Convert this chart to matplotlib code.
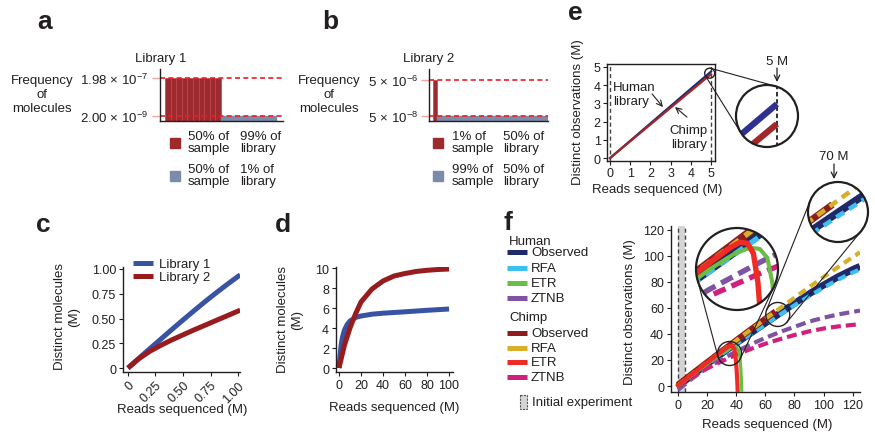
import numpy as np
import matplotlib
matplotlib.use("Agg")
import matplotlib.pyplot as plt
from matplotlib.patches import Circle, Rectangle
from matplotlib.ticker import NullLocator

INK = '#231f20'
plt.rcParams['font.family'] = ['Liberation Sans', 'DejaVu Sans']
plt.rcParams['mathtext.fontset'] = 'custom'
plt.rcParams['mathtext.rm'] = 'Liberation Sans'
plt.rcParams['mathtext.it'] = 'Liberation Sans:italic'
plt.rcParams['mathtext.bf'] = 'Liberation Sans:bold'
plt.rcParams['text.color'] = INK
plt.rcParams['axes.edgecolor'] = INK
plt.rcParams['xtick.color'] = INK
plt.rcParams['ytick.color'] = INK
plt.rcParams['axes.linewidth'] = 1.0
plt.rcParams['xtick.major.size'] = 3
plt.rcParams['ytick.major.size'] = 3
plt.rcParams['xtick.major.pad'] = 2
plt.rcParams['ytick.major.pad'] = 2
plt.rcParams['xtick.labelsize'] = 9
plt.rcParams['ytick.labelsize'] = 9

# ---------------- data ----------------
# a, b: frequency of molecules in each library
lib1_common = [1.98e-7] * 10
lib1_rare = [2.00e-9] * 10
lib2_common = [5e-6]
lib2_rare = [5e-8] * 30

# c: distinct molecules, first million reads
c_reads = [0, 0.1, 0.2, 0.3, 0.4, 0.5, 0.6, 0.7, 0.8, 0.9, 1.0, 1.02]
c_lib1 = [0, 0.099, 0.197, 0.293, 0.39, 0.485, 0.578, 0.67, 0.758, 0.843, 0.925, 0.94]
c_lib2 = [0, 0.095, 0.17, 0.23, 0.285, 0.335, 0.385, 0.432, 0.48, 0.527, 0.575, 0.585]

# d: distinct molecules, up to 100 M reads
d_reads1 = [0, 1, 2, 3, 5, 7.5, 10, 15, 20, 30, 40, 60, 80, 100]
d_lib1 = [0, 1.3, 2.3, 3.0, 3.8, 4.35, 4.7, 5.05, 5.2, 5.38, 5.48, 5.62, 5.77, 5.9]
d_reads2 = [0, 5, 10, 15, 20, 30, 40, 50, 60, 70, 80, 90, 100]
d_lib2 = [0, 2.3, 4.0, 5.4, 6.6, 7.9, 8.7, 9.2, 9.45, 9.65, 9.77, 9.85, 9.9]

# e: initial experiment
e_reads = [0, 1, 2, 3, 4, 5]
e_human = [0, 0.95, 1.9, 2.85, 3.8, 4.74]
e_chimp = [0, 0.92, 1.84, 2.76, 3.68, 4.6]

# f: deep sequencing and extrapolations
f_reads = [0, 10, 20, 30, 40, 50, 60, 70, 80, 90, 100, 110, 120, 125]
human_obs = [0, 8.5, 17, 25, 33, 40.7, 48.4, 56, 63.5, 70.8, 77.6, 84, 89.5, 92]
human_rfa = [0, 8.3, 16.6, 24.5, 32.3, 39.9, 47.4, 54.8, 62, 69, 75.6, 81.8, 87.2, 89.6]
human_ztnb = [-3, 6, 14, 20.5, 26.5, 32, 37, 41.5, 45.5, 49.5, 52.5, 55, 57, 58]
chimp_rfa = [0.5, 9.3, 18, 26.6, 35, 43.3, 51.6, 59.8, 67.9, 75.9, 83.8, 91.5, 99.1, 102.8]
chimp_ztnb = [0, 7, 13.5, 19, 24, 28.5, 32.5, 36, 39.2, 42, 44.2, 45.8, 47, 47.5]
chimp_reads = [0, 10, 20, 30, 40, 50, 60, 67]
chimp_obs = [1, 9.6, 18.2, 26.7, 35.1, 43.4, 51.6, 57.3]
h_etr_reads = [0, 10, 20, 30, 35, 38, 40, 41.5, 42.5, 43.2, 43.6, 44]
h_etr = [0, 8.4, 16.8, 25, 28.5, 29.8, 29.5, 27.5, 22, 13, 3, -10]
c_etr_reads = [0, 10, 20, 30, 34, 36, 37.5, 38.7, 39.6, 40.3, 40.8, 41.2]
c_etr = [0.5, 9.2, 18, 26.5, 29.8, 31, 30.8, 28.5, 22, 12, 2, -10]

# ---------------- styles ----------------
BAR_RED, BAR_BLUE, DASH_RED = '#9d2a2e', '#7b8cab', '#ec1c24'
C_BLUE, C_RED = '#3953a4', '#981b1e'
NAVY, LBLUE, GREEN, PURPLE = '#1f2a6b', '#3dbfef', '#6abd45', '#7f53a2'
DRED, GOLD, RED, MAGENTA = '#8f1d1d', '#d6b02b', '#ee2b24', '#d0207b'

W, H = 875, 439
fig = plt.figure(figsize=(W / 100, H / 100), dpi=100)


def box(x0, y0, x1, y1):
    return [x0 / W, 1 - y1 / H, (x1 - x0) / W, (y1 - y0) / H]


ov = fig.add_axes([0, 0, 1, 1], zorder=20)
ov.set_xlim(0, W)
ov.set_ylim(H, 0)
ov.axis('off')

FS = 9.5
LS = 1.2


def letter(x, y, s):
    ov.text(x, y, s, fontsize=19, fontweight='bold', ha='left', va='baseline')


def clean(ax):
    ax.spines['top'].set_visible(False)
    ax.spines['right'].set_visible(False)


# ---------------- a / b ----------------
def freq_panel(x0, x1, common, rare, ylim, ticks, labels, xlim):
    ax = fig.add_axes(box(x0, 70, x1, 122))
    n = len(common)
    ax.bar(np.arange(n), common, width=1, align='edge', bottom=1e-12,
           color=BAR_RED, edgecolor='#b8484d', linewidth=0.5)
    ax.bar(np.arange(n, n + len(rare)), rare, width=1, align='edge', bottom=1e-12,
           color=BAR_BLUE, edgecolor=BAR_BLUE, linewidth=0.3)
    ax.set_yscale('log')
    ax.set_ylim(*ylim)
    ax.set_xlim(*xlim)
    for t in ticks:
        ax.axhline(t, color=DASH_RED, lw=1.2, ls=(0, (3, 2)))
    ax.set_yticks(ticks)
    ax.set_yticklabels(labels, fontsize=9.5)
    ax.yaxis.set_minor_locator(NullLocator())
    ax.set_xticks([])
    ax.tick_params(axis='y', length=6, width=1, color='#f4a5a5', pad=2)
    clean(ax)
    return ax


axa = freq_panel(160, 283, lib1_common, lib1_rare, (1.09e-9, 5.9e-7), [2e-9, 1.98e-7],
                 [r'$2.00\,\times\,10^{-9}$', r'$1.98\,\times\,10^{-7}$'], (-0.9, 21.1))
axb = freq_panel(429, 548, lib2_common, lib2_rare, (2.7e-8, 2e-5), [5e-8, 5e-6],
                 [r'$5\,\times\,10^{-8}$', r'$5\,\times\,10^{-6}$'], (-1.1, 31.1))

ov.text(161, 62, 'Library 1', fontsize=FS, ha='center', va='baseline')
ov.text(429, 62, 'Library 2', fontsize=FS, ha='center', va='baseline')
for xc in (42, 329):
    ov.text(xc, 95, 'Frequency\nof\nmolecules', fontsize=FS, ha='center', va='center',
            multialignment='center', linespacing=LS)

for sx, t1, t2, t3, t4 in [(170, '50% of\nsample', '99% of\nlibrary', '50% of\nsample', '1% of\nlibrary'),
                           (433, '1% of\nsample', '50% of\nlibrary', '99% of\nsample', '50% of\nlibrary')]:
    ov.add_patch(Rectangle((sx, 139), 10, 10, color=BAR_RED))
    ov.add_patch(Rectangle((sx, 172), 10, 10, color=BAR_BLUE))
    off = 18 if sx == 170 else 19
    col2 = 240 if sx == 170 else 503
    for xx, yy, tt in [(sx + off, 143, t1), (col2, 143, t2), (sx + off, 176, t3), (col2, 176, t4)]:
        ov.text(xx, yy, tt, fontsize=FS, va='center', linespacing=1.0)

letter(37, 29, 'a')
letter(322, 29, 'b')

# ---------------- c ----------------
axc = fig.add_axes(box(123, 268, 240, 373))
axc.plot(c_reads, c_lib1, color=C_BLUE, lw=3.6, label='Library 1', solid_capstyle='butt')
axc.plot(c_reads, c_lib2, color=C_RED, lw=3.6, label='Library 2', solid_capstyle='butt')
axc.set_xlim(-0.045, 1.018)
axc.set_ylim(-0.04, 1.02)
ct = [0, 0.25, 0.5, 0.75, 1.0]
ctl = ['0', '0.25', '0.50', '0.75', '1.00']
axc.set_xticks(ct)
axc.set_xticklabels(ctl, rotation=45, ha='right', rotation_mode='anchor')
axc.set_yticks(ct)
axc.set_yticklabels(ctl)
clean(axc)
axc.legend(loc='upper left', bbox_to_anchor=(0.085, 1.085), frameon=False, fontsize=9.5,
           handlelength=1.5, handletextpad=0.5, labelspacing=0.05, borderpad=0, borderaxespad=0)
ov.text(67, 317, 'Distinct molecules\n(M)', fontsize=FS, rotation=90, ha='center', va='center',
        multialignment='center', linespacing=LS)
ov.text(182, 410, 'Reads sequenced (M)', fontsize=FS, ha='center', va='center')
letter(36, 232, 'c')

# ---------------- d ----------------
axd = fig.add_axes(box(336, 268, 453, 373))
axd.plot(d_reads1, d_lib1, color=C_BLUE, lw=3.6, solid_capstyle='butt')
axd.plot(d_reads2, d_lib2, color=C_RED, lw=3.6, solid_capstyle='butt')
axd.set_xlim(-2.7, 103.6)
axd.set_ylim(-0.4, 10.1)
axd.set_xticks([0, 20, 40, 60, 80, 100])
axd.set_yticks([0, 2, 4, 6, 8, 10])
clean(axd)
ov.text(290, 320, 'Distinct molecules\n(M)', fontsize=FS, rotation=90, ha='center', va='center',
        multialignment='center', linespacing=LS)
ov.text(394, 408, 'Reads sequenced (M)', fontsize=FS, ha='center', va='center')
letter(275, 232, 'd')

# ---------------- e ----------------
axe = fig.add_axes(box(607, 65, 715, 162))
for xv in (0, 5):
    axe.axvline(xv, color='#444444', lw=1.0, ls=(0, (3, 2)))
axe.plot(e_reads, e_human, color=NAVY, lw=1.6)
axe.plot(e_reads, e_chimp, color='#a3272a', lw=1.6)
axe.set_xlim(-0.15, 5.2)
axe.set_ylim(-0.16, 5.16)
axe.set_xticks(range(6))
axe.set_yticks(range(6))
axe.tick_params(pad=1.5)
axe.text(0.15, 3.52, 'Human\nlibrary', fontsize=FS, ha='left', va='center', linespacing=LS)
axe.text(3.9, 1.15, 'Chimp\nlibrary', fontsize=FS, ha='center', va='center', linespacing=LS)
axe.annotate('', xy=(2.62, 2.8), xytext=(2.08, 3.52),
             arrowprops=dict(arrowstyle='->', lw=0.8, color=INK, shrinkA=0, shrinkB=0))
axe.annotate('', xy=(3.22, 2.8), xytext=(3.81, 2.25),
             arrowprops=dict(arrowstyle='->', lw=0.8, color=INK, shrinkA=0, shrinkB=0))
ov.text(578, 112, 'Distinct observations (M)', fontsize=FS, rotation=90, ha='center', va='center')
ov.text(657, 190, 'Reads sequenced (M)', fontsize=FS, ha='center', va='center')
letter(568, 20, 'e')

# ---------------- f ----------------
axf = fig.add_axes(box(671, 227, 860, 393))
axf.axvspan(0, 5, color='#d4d4d4', lw=0)
for xv in (0, 5):
    axf.axvline(xv, color='#444444', lw=1.0, ls=(0, (3, 2)))
axf.set_xlim(-4.8, 125)
axf.set_ylim(-4.6, 123)
axf.set_xticks(range(0, 121, 20))
axf.set_yticks(range(0, 121, 20))
clean(axf)


def draw_f(ax, k):
    ax.plot(f_reads, human_obs, color=NAVY, lw=5 * k, solid_capstyle='butt', zorder=2)
    ax.plot(f_reads, human_rfa, color=LBLUE, lw=3 * k, dashes=(2, 1.3), zorder=3)
    ax.plot(f_reads, human_ztnb, color=PURPLE, lw=3 * k, dashes=(2.4, 1.2), zorder=4)
    ax.plot(f_reads, chimp_ztnb, color=MAGENTA, lw=3 * k, dashes=(2.4, 1.2), zorder=4)
    ax.plot(chimp_reads, chimp_obs, color=DRED, lw=4.5 * k, solid_capstyle='butt', zorder=5)
    ax.plot(f_reads, chimp_rfa, color=GOLD, lw=3 * k, dashes=(2, 1.3), zorder=6)
    ax.plot(h_etr_reads, h_etr, color=GREEN, lw=2.3 * k, zorder=7)
    ax.plot(c_etr_reads, c_etr, color=RED, lw=3 * k, zorder=8)


draw_f(axf, 1.0)
ov.text(630, 312, 'Distinct observations (M)', fontsize=FS, rotation=90, ha='center', va='center')
ov.text(767, 425, 'Reads sequenced (M)', fontsize=FS, ha='center', va='center')
letter(503, 230, 'f')

# legend of f
ov.text(509, 242, 'Human', fontsize=FS, va='center')
ov.text(509, 318, 'Chimp', fontsize=FS, va='center')
for y, c, s in [(253, NAVY, 'Observed'), (269, LBLUE, 'RFA'), (284, GREEN, 'ETR'), (299, PURPLE, 'ZTNB'),
                (334, DRED, 'Observed'), (349, GOLD, 'RFA'), (363, RED, 'ETR'), (378, MAGENTA, 'ZTNB')]:
    ov.plot([507, 527], [y, y], color=c, lw=3.6, solid_capstyle='butt')
    ov.text(531, y, s, fontsize=FS, va='center')
ov.add_patch(Rectangle((520, 396), 7, 14, fc='#d4d4d4', ec='#555555', lw=0.8, ls=(0, (2, 1))))
ov.text(532, 403, 'Initial experiment', fontsize=FS, va='center')


# ---------------- magnifying lenses ----------------
def to_px(ax, x, y):
    dx, dy = ax.transData.transform((x, y))
    return dx, H - dy


def tangents(c1, r1, c2, r2):
    c1 = np.asarray(c1, float)
    c2 = np.asarray(c2, float)
    d = c2 - c1
    dist = np.hypot(*d)
    base = np.arctan2(d[1], d[0])
    phi = np.arccos((r1 - r2) / dist)
    out = []
    for s in (1, -1):
        n = np.array([np.cos(base + s * phi), np.sin(base + s * phi)])
        out.append((c1 + r1 * n, c2 + r2 * n))
    return out


def lens(ax, center, r_small, big, r_big, half=None):
    sx, sy = to_px(ax, *center)
    ov.add_patch(Circle((sx, sy), r_small, fill=False, ec=INK, lw=1.0))
    ov.add_patch(Circle(big, r_big, fill=False, ec=INK, lw=1.6))
    for p1, p2 in tangents((sx, sy), r_small, big, r_big):
        ov.plot([p1[0], p2[0]], [p1[1], p2[1]], color=INK, lw=0.8)
    if half is None:
        kx = ax.transData.transform((1, 0))[0] - ax.transData.transform((0, 0))[0]
        ky = ax.transData.transform((0, 1))[1] - ax.transData.transform((0, 0))[1]
        half = (r_small / kx, r_small / ky)
    bx, by = big
    ins = fig.add_axes(box(bx - r_big, by - r_big, bx + r_big, by + r_big), zorder=15)
    ins.set_xlim(center[0] - half[0], center[0] + half[0])
    ins.set_ylim(center[1] - half[1], center[1] + half[1])
    ins.axis('off')
    ins.add_patch(Circle((0.5, 0.5), 0.5, transform=ins.transAxes, fc='white', ec='none', zorder=0))
    return ins


def clip_round(ins):
    clip = Circle((0.5, 0.5), 0.5, transform=ins.transAxes)
    for ln in ins.lines:
        ln.set_clip_path(clip)


ine = lens(axe, (4.937, 4.656), 5, (767, 117), 31, half=(0.196, 0.217))
ine.axvline(5, color=INK, lw=1.3, ls=(0, (2.5, 1.5)))
ine.plot(e_reads, e_human, color='#2e3192', lw=4.5, solid_capstyle='butt')
ine.plot(e_reads, e_chimp, color='#a3272a', lw=4.5, solid_capstyle='butt')
clip_round(ine)

inf1 = lens(axf, (35.4, 25), 12, (737, 270), 41)
draw_f(inf1, 1.3)
clip_round(inf1)

inf2 = lens(axf, (68.5, 55), 12, (838, 213), 30)
draw_f(inf2, 1.1)
clip_round(inf2)

ov.text(777, 62, '5 M', fontsize=FS, ha='center', va='center')
ov.annotate('', xy=(777, 83), xytext=(777, 69),
            arrowprops=dict(arrowstyle='->', lw=0.9, color=INK, shrinkA=0, shrinkB=0))
ov.text(834, 157, '70 M', fontsize=FS, ha='center', va='center')
ov.annotate('', xy=(834, 180), xytext=(834, 165),
            arrowprops=dict(arrowstyle='->', lw=0.9, color=INK, shrinkA=0, shrinkB=0))

fig.savefig('out.png', dpi=100)
